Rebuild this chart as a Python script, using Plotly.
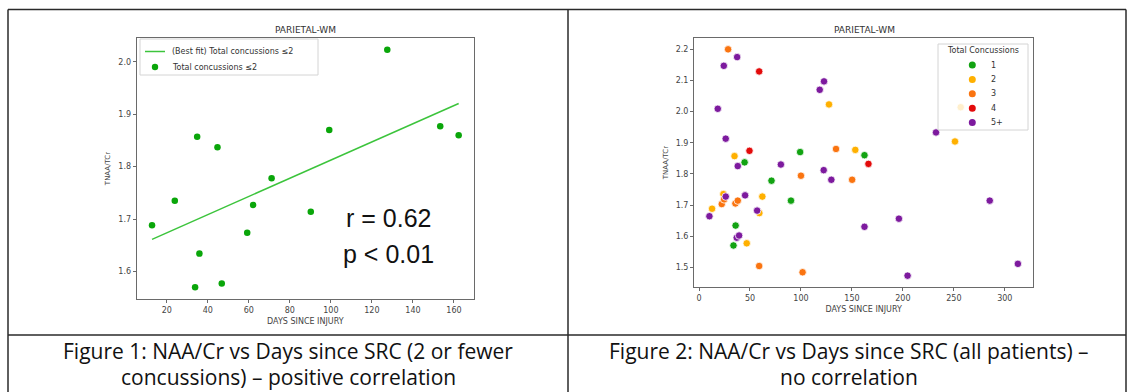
import numpy as np
import plotly.graph_objects as go

# ---------------- data ----------------
# Figure 1 (<=2 concussions)
left_days = [12.8, 23.9, 33.8, 34.8, 35.9, 44.7, 46.8, 59.2, 62.1, 71.1, 90.2, 99.2, 127.5, 153.3, 162.3]
left_ratio = [1.688, 1.735, 1.570, 1.857, 1.634, 1.837, 1.577, 1.674, 1.727, 1.778, 1.714, 1.870, 2.023, 1.877, 1.860]

# Figure 2 (all patients) by total concussions
g1_days = [33.8, 35.9, 44.7, 71.1, 90.2, 99.2, 162.3]
g1_ratio = [1.570, 1.634, 1.837, 1.778, 1.714, 1.870, 1.860]
g2_days = [12.8, 23.9, 34.8, 46.8, 59.2, 62.1, 127.5, 153.3, 251.1, 256.7]
g2_ratio = [1.688, 1.735, 1.857, 1.577, 1.674, 1.727, 2.023, 1.877, 1.904, 2.014]
g3_days = [28.5, 22.3, 24.6, 35.7, 38.0, 59.0, 100.0, 101.6, 134.4, 150.2]
g3_ratio = [2.200, 1.703, 1.718, 1.705, 1.714, 1.504, 1.794, 1.484, 1.880, 1.781]
g4_days = [49.5, 59.0, 166.2]
g4_ratio = [1.874, 2.129, 1.832]
g5_days = [10.2, 18.4, 24.3, 37.4, 26.2, 26.2, 38.0, 37.0, 39.3, 45.2, 57.0, 80.3,
           118.4, 122.6, 122.3, 129.8, 162.3, 196.1, 204.6, 232.5, 285.2, 312.8]
g5_ratio = [1.664, 2.009, 2.147, 2.175, 1.913, 1.727, 1.825, 1.595, 1.602, 1.731, 1.682, 1.830,
            2.070, 2.097, 1.812, 1.781, 1.630, 1.656, 1.473, 1.933, 1.714, 1.511]

group_names = ["1", "2", "3", "4", "5+"]
group_colors = ["#12a312", "#ffb000", "#fa7410", "#e30b0b", "#7d1a9e"]

left_title = "PARIETAL-WM"
right_title = "PARIETAL-WM"
x_title = "DAYS SINCE INJURY"
y_title = "TNAA/TCr"
legend_left_labels = ["(Best fit) Total concussions \u22642", "Total concussions \u22642"]
legend_right_title = "Total Concussions"
caption1 = ["Figure 1: NAA/Cr vs Days since SRC (2 or fewer", "concussions) \u2013 positive correlation"]
caption2 = ["Figure 2: NAA/Cr vs Days since SRC (all patients) \u2013", "no correlation"]

W, H = 1129, 392
FIT_COLOR = "#3cc43c"
LEFT_DOT = "#0aa60a"


def px_x(v):
    return v / W


def px_y(v):
    return 1 - v / H


fig = go.Figure()

# best fit line from left data
slope, intercept = np.polyfit(left_days, left_ratio, 1)
fit_x = [min(left_days), max(left_days)]
fit_y = [slope * v + intercept for v in fit_x]

fig.add_trace(go.Scatter(x=fit_x, y=fit_y, mode="lines", xaxis="x", yaxis="y",
                         line=dict(color=FIT_COLOR, width=1.5), name=legend_left_labels[0]))
fig.add_trace(go.Scatter(x=left_days, y=left_ratio, mode="markers", xaxis="x", yaxis="y",
                         marker=dict(color=LEFT_DOT, size=6.5), name=legend_left_labels[1]))

groups = [(g1_days, g1_ratio), (g2_days, g2_ratio), (g3_days, g3_ratio),
          (g4_days, g4_ratio), (g5_days, g5_ratio)]
for (gx, gy), nm, col in zip(groups, group_names, group_colors):
    fig.add_trace(go.Scatter(x=gx, y=gy, mode="markers", xaxis="x2", yaxis="y2",
                             marker=dict(color=col, size=7.5, line=dict(color="white", width=0.8)),
                             name=nm))

axis_common = dict(showgrid=False, zeroline=False, showline=True, mirror=True,
                   linecolor="#6a6a6a", linewidth=1, ticks="outside", ticklen=3,
                   tickcolor="#6a6a6a", tickfont=dict(family="DejaVu Sans", size=8, color="#444"))

all_x = g1_days + g2_days + g3_days + g4_days + g5_days
all_y = g1_ratio + g2_ratio + g3_ratio + g4_ratio + g5_ratio


def pad(vals):
    a, b = min(vals), max(vals)
    m = (b - a) * 0.05
    return [a - m, b + m]


title_font = dict(family="DejaVu Sans", size=8, color="#444")
fig.update_layout(
    width=W, height=H,
    margin=dict(l=0, r=0, t=0, b=0),
    paper_bgcolor="white", plot_bgcolor="white",
    showlegend=False,
    xaxis=dict(domain=[px_x(136.7), px_x(474)], range=pad(left_days), anchor="y",
               tickvals=[20, 40, 60, 80, 100, 120, 140, 160],
               title=dict(text=x_title, font=title_font, standoff=4), **axis_common),
    yaxis=dict(domain=[px_y(299), px_y(38)], range=pad(left_ratio), anchor="x",
               tickvals=[1.6, 1.7, 1.8, 1.9, 2.0], tickformat=".1f",
               title=dict(text=y_title, font=dict(family="DejaVu Sans", size=7, color="#444"), standoff=6),
               **axis_common),
    xaxis2=dict(domain=[px_x(694), px_x(1033.3)], range=pad(all_x), anchor="y2",
                tickvals=[0, 50, 100, 150, 200, 250, 300],
                title=dict(text=x_title, font=title_font, standoff=4), **axis_common),
    yaxis2=dict(domain=[px_y(287), px_y(38)], range=pad(all_y), anchor="x2",
                tickvals=[1.5, 1.6, 1.7, 1.8, 1.9, 2.0, 2.1, 2.2], tickformat=".1f",
                title=dict(text=y_title, font=dict(family="DejaVu Sans", size=7, color="#444"), standoff=6),
                **axis_common),
)


def ann(text, x, y, font, xanchor="center"):
    return dict(text=text, x=px_x(x), y=px_y(y), xref="paper", yref="paper",
                xanchor=xanchor, yanchor="middle", showarrow=False, font=font)


leg_font = dict(family="DejaVu Sans", size=8, color="#333")
annotations = [
    ann(left_title, 305, 30, dict(family="DejaVu Sans", size=9, color="#333")),
    ann(right_title, 864, 30, dict(family="DejaVu Sans", size=9, color="#333")),
    ann("r = 0.62", 388, 218, dict(family="Liberation Sans", size=25, color="#111")),
    ann("p < 0.01", 388, 254, dict(family="Liberation Sans", size=25, color="#111")),
    # left legend texts
    ann(legend_left_labels[0], 170, 51.5, leg_font, "left"),
    ann(legend_left_labels[1], 170, 67, leg_font, "left"),
    # right legend
    ann(legend_right_title, 983, 51, leg_font),
]
entry_y = [65, 79.4, 93.8, 108.2, 122.6]
for nm, yy in zip(group_names, entry_y):
    annotations.append(ann(nm, 989, yy, leg_font, "left"))

cap_font = dict(family="Open Sans", size=21, color="#111")
cap_y = [351, 377]
for line, yy in zip(caption1, cap_y):
    annotations.append(ann(line, 288, yy, cap_font))
for line, yy in zip(caption2, cap_y):
    annotations.append(ann(line, 849, yy, cap_font))
fig.update_layout(annotations=annotations)


def circle(cx, cy, r, color):
    return dict(type="circle", xref="paper", yref="paper", layer="above",
                x0=px_x(cx - r), x1=px_x(cx + r), y0=px_y(cy + r), y1=px_y(cy - r),
                fillcolor=color, line=dict(width=0))


line_style = dict(color="#2a2a2a", width=1.5)
shapes = [
    # legend boxes (translucent, above data)
    dict(type="rect", xref="paper", yref="paper", layer="above",
         x0=px_x(140), x1=px_x(318), y0=px_y(75), y1=px_y(39),
         fillcolor="rgba(255,255,255,0.8)", line=dict(color="#d4d4d4", width=1)),
    dict(type="line", xref="paper", yref="paper", layer="above",
         x0=px_x(145), x1=px_x(165), y0=px_y(51.5), y1=px_y(51.5),
         line=dict(color=FIT_COLOR, width=1.5)),
    circle(155, 67, 3.2, LEFT_DOT),
    dict(type="rect", xref="paper", yref="paper", layer="above",
         x0=px_x(938), x1=px_x(1028), y0=px_y(130), y1=px_y(44),
         fillcolor="rgba(255,255,255,0.8)", line=dict(color="#d4d4d4", width=1)),
]
for col, yy in zip(group_colors, entry_y):
    shapes.append(circle(972.3, yy, 3.5, col))

# table borders
shapes += [
    dict(type="line", xref="paper", yref="paper", x0=px_x(8), x1=px_x(1126), y0=px_y(9.5), y1=px_y(9.5), line=line_style),
    dict(type="line", xref="paper", yref="paper", x0=px_x(8), x1=px_x(8), y0=px_y(9.5), y1=px_y(392), line=line_style),
    dict(type="line", xref="paper", yref="paper", x0=px_x(1126), x1=px_x(1126), y0=px_y(9.5), y1=px_y(392), line=line_style),
    dict(type="line", xref="paper", yref="paper", x0=px_x(568), x1=px_x(568), y0=px_y(9.5), y1=px_y(392), line=line_style),
    dict(type="line", xref="paper", yref="paper", x0=px_x(8), x1=px_x(1126), y0=px_y(335), y1=px_y(335), line=line_style),
]
fig.update_layout(shapes=shapes)

fig.write_html("out.html", config={"displayModeBar": False},
               post_script="document.body.style.margin='0';")
